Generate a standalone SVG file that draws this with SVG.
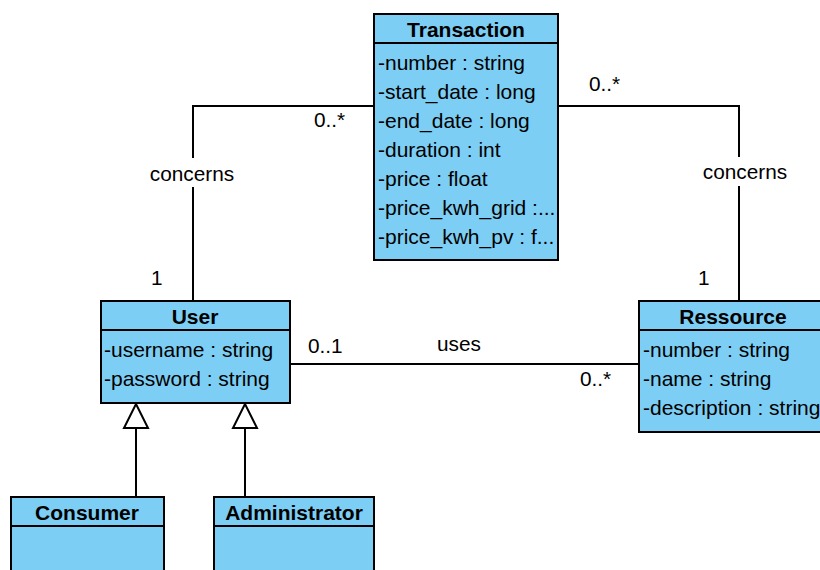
<svg xmlns="http://www.w3.org/2000/svg" width="820" height="570" viewBox="0 0 820 570">
<style>
.box{fill:#7dcef4;stroke:#000;stroke-width:2}
.sep{stroke:#000;stroke-width:2}
.t{font-family:"Liberation Sans",Arial,sans-serif;font-size:21px;font-weight:bold;text-anchor:middle;fill:#000}
.a{font-family:"Liberation Sans",Arial,sans-serif;font-size:21px;fill:#000}
.l{font-family:"Liberation Sans",Arial,sans-serif;font-size:20.8px;fill:#000}
.c{fill:none;stroke:#000;stroke-width:2}
.g{fill:#fff;stroke:#000;stroke-width:2}
</style>
<rect width="820" height="570" fill="#fff"/>
<g id="connectors">
<polyline class="c" points="374,106 193,106 193,301"/>
<polyline class="c" points="558,106 739,106 739,301"/>
<line class="c" x1="290" y1="364" x2="639" y2="364"/>
<path class="c" d="M136,497 V429"/>
<path class="c" d="M245,497 V429"/>
<path class="g" d="M136,404 L148,428 L124,428 Z"/>
<path class="g" d="M245,404 L257,428 L233,428 Z"/>
<rect x="146" y="158" width="94" height="29" fill="#fff"/>
<text class="l" x="192" y="181" text-anchor="middle">concerns</text>
<rect x="698" y="157" width="94" height="29" fill="#fff"/>
<text class="l" x="745" y="179" text-anchor="middle">concerns</text>
<text class="l" x="314" y="127">0..*</text>
<text class="l" x="151" y="285">1</text>
<text class="l" x="589" y="91">0..*</text>
<text class="l" x="698" y="285">1</text>
<text class="l" x="437" y="351">uses</text>
<text class="l" x="308" y="353">0..1</text>
<text class="l" x="580" y="386">0..*</text>
</g>
<g id="transaction">
<rect class="box" x="374" y="14" width="184" height="246"/>
<line class="sep" x1="374" y1="43" x2="558" y2="43"/>
<text class="t" x="466" y="37">Transaction</text>
<text class="a" x="378" y="70">-number : string</text>
<text class="a" x="378" y="99">-start_date : long</text>
<text class="a" x="378" y="128">-end_date : long</text>
<text class="a" x="378" y="157">-duration : int</text>
<text class="a" x="378" y="186">-price : float</text>
<text class="a" x="378" y="215">-price_kwh_grid :...</text>
<text class="a" x="378" y="244">-price_kwh_pv : f...</text>
</g>
<g id="user">
<rect class="box" x="101" y="301" width="189" height="102"/>
<line class="sep" x1="101" y1="330" x2="290" y2="330"/>
<text class="t" x="195" y="324">User</text>
<text class="a" x="104" y="357">-username : string</text>
<text class="a" x="104" y="386">-password : string</text>
</g>
<g id="ressource">
<rect class="box" x="639" y="301" width="190" height="131"/>
<line class="sep" x1="639" y1="330" x2="829" y2="330"/>
<text class="t" x="733" y="324">Ressource</text>
<text class="a" x="643" y="357">-number : string</text>
<text class="a" x="643" y="386">-name : string</text>
<text class="a" x="643" y="415">-description : string</text>
</g>
<g id="consumer">
<rect class="box" x="11" y="497" width="153" height="90"/>
<line class="sep" x1="11" y1="526" x2="164" y2="526"/>
<text class="t" x="87" y="520">Consumer</text>
</g>
<g id="administrator">
<rect class="box" x="214" y="497" width="160" height="90"/>
<line class="sep" x1="214" y1="526" x2="374" y2="526"/>
<text class="t" x="294" y="520">Administrator</text>
</g>
</svg>
